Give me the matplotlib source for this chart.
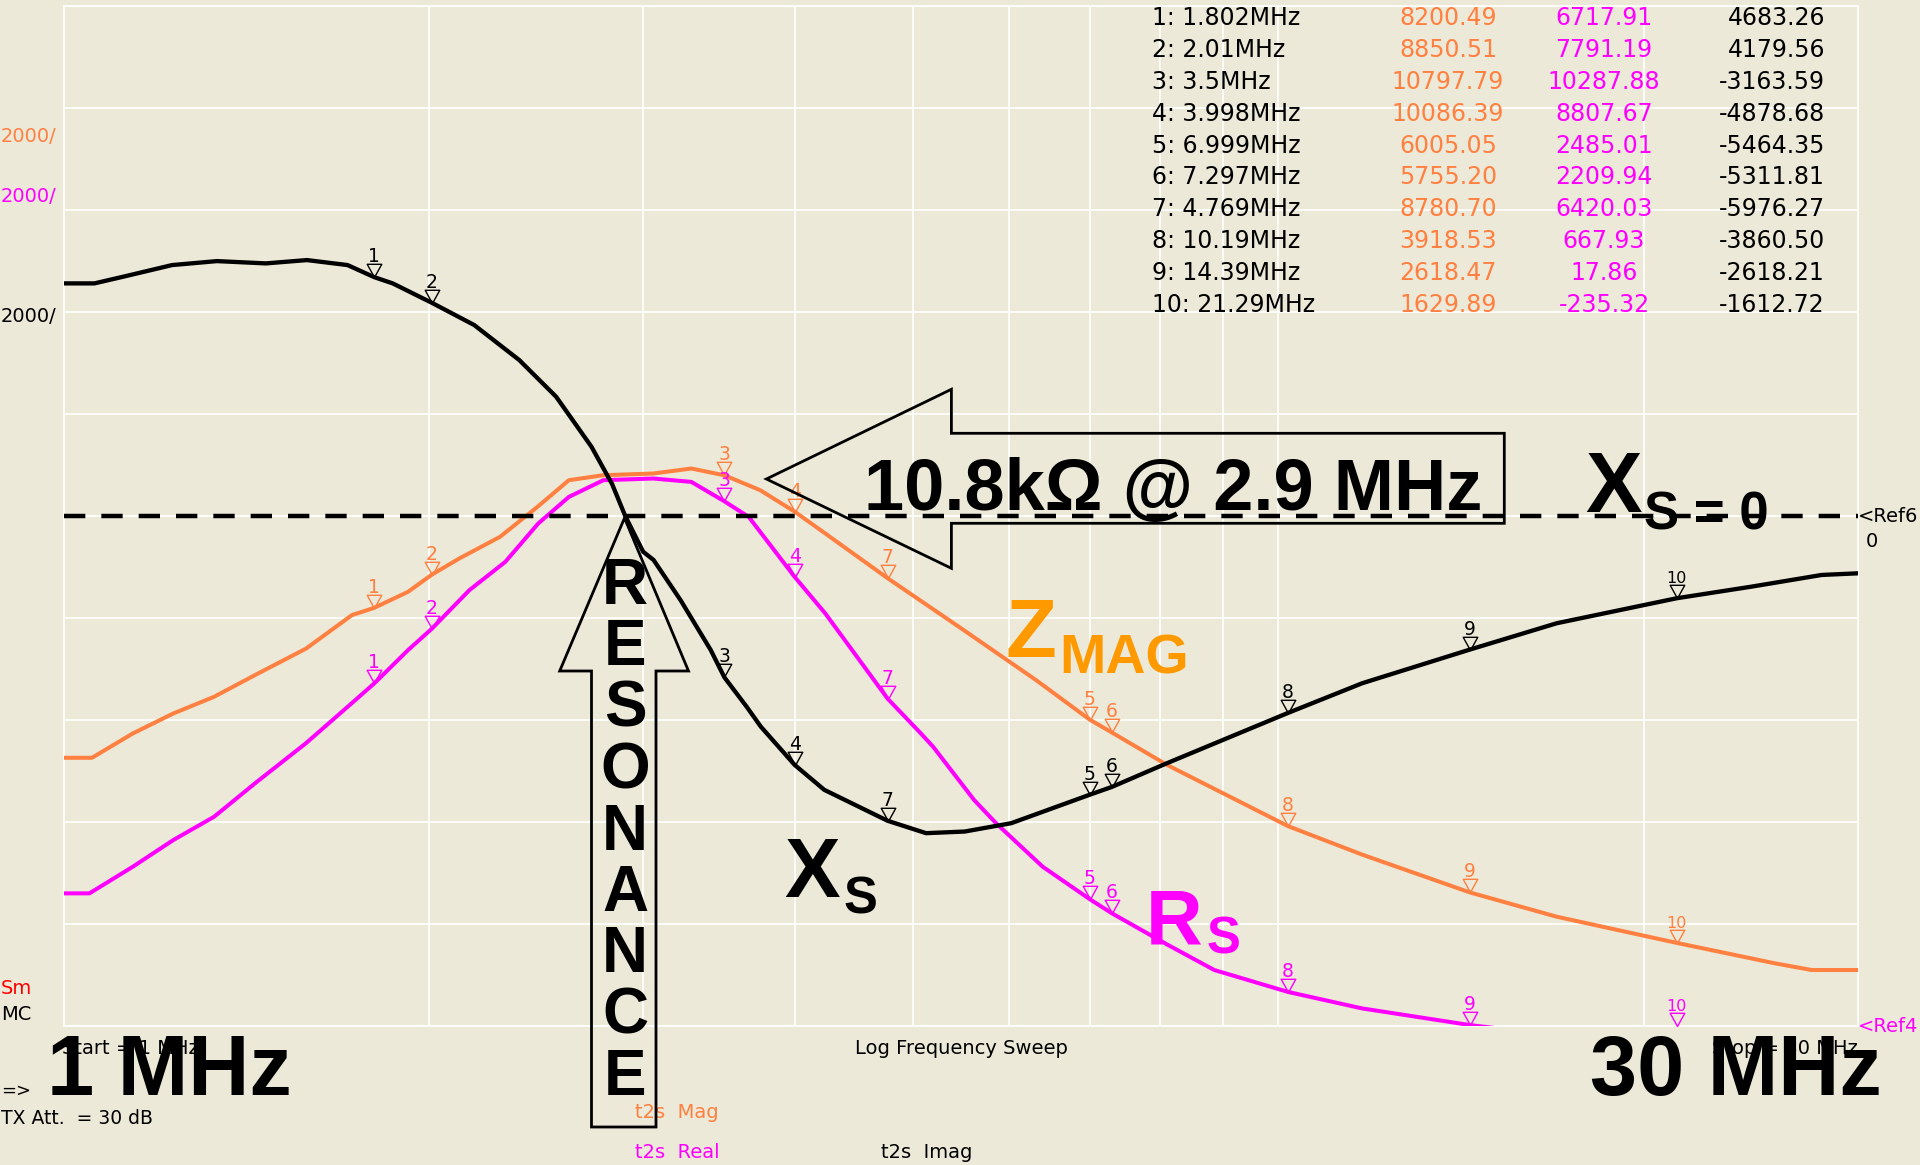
import numpy as np
import matplotlib
matplotlib.use("Agg")
import matplotlib.pyplot as plt
from matplotlib.path import Path
from matplotlib.patches import Polygon
from matplotlib.ticker import NullLocator, NullFormatter

# ---------------- data (MHz / ohms) ----------------
mag_freq = [1.0, 1.055, 1.14, 1.231, 1.33, 1.437, 1.584, 1.727, 1.802, 1.921, 2.01, 2.117,
            2.287, 2.459, 2.606, 2.782, 3.058, 3.287, 3.5, 3.746, 3.998, 4.238, 4.769, 5.46,
            6.32, 6.999, 7.297, 8.1, 10.19, 11.73, 14.39, 16.96, 21.29, 25.65, 27.5, 30.0]
mag_ohm = [5259, 5259, 5736, 6128, 6455, 6880, 7403, 8056, 8200, 8513, 8851, 9167,
           9591, 10192, 10702, 10800, 10833, 10931, 10798, 10506, 10086, 9657, 8781, 7827,
           6782, 6005, 5755, 5120, 3919, 3360, 2618, 2143, 1630, 1229, 1098, 1098]

real_freq = [1.0, 1.05, 1.14, 1.231, 1.33, 1.437, 1.584, 1.744, 1.802, 1.921, 2.01, 2.158,
             2.31, 2.459, 2.606, 2.782, 3.058, 3.287, 3.5, 3.665, 3.998, 4.238, 4.769, 5.08,
             5.2, 5.62, 5.86, 6.4, 6.999, 7.297, 8.1, 8.86, 10.19, 11.72, 14.39, 16.5, 21.29, 30.0]
real_ohm = [2601, 2601, 3123, 3646, 4103, 4757, 5550, 6420, 6718, 7370, 7791, 8546,
            9100, 9853, 10374, 10702, 10735, 10669, 10288, 9983, 8808, 8089, 6420, 5736,
            5474, 4430, 3973, 3123, 2485, 2210, 1600, 1098, 668, 346, 18, -150, -235, -200]

imag_freq = [1.0, 1.06, 1.119, 1.228, 1.337, 1.467, 1.586, 1.713, 1.802, 1.866, 2.01, 2.178,
             2.372, 2.544, 2.72, 2.829, 2.9, 3.0, 3.06, 3.22, 3.41, 3.5, 3.65, 3.75, 3.998, 4.23,
             4.769, 5.13, 5.52, 6.03, 6.999, 7.297, 8.1, 10.19, 11.73, 14.39, 16.96, 21.29, 24.54,
             28.03, 30.0]
imag_ohm = [4561, 4561, 4691, 4920, 4998, 4953, 5018, 4920, 4683, 4561, 4180, 3744,
            3058, 2338, 1359, 624, 0, -700, -862, -1646, -2626, -3164, -3737, -4130, -4879,
            -5370, -5976, -6219, -6187, -6023, -5464, -5312, -4847, -3861, -3279, -2618,
            -2103, -1613, -1385, -1156, -1124]

marker_freq = [1.802, 2.01, 3.5, 3.998, 6.999, 7.297, 4.769, 10.19, 14.39, 21.29]
marker_mag = [8200.49, 8850.51, 10797.79, 10086.39, 6005.05, 5755.20, 8780.70, 3918.53, 2618.47, 1629.89]
marker_real = [6717.91, 7791.19, 10287.88, 8807.67, 2485.01, 2209.94, 6420.03, 667.93, 17.86, -235.32]
marker_imag = [4683.26, 4179.56, -3163.59, -4878.68, -5464.35, -5311.81, -5976.27, -3860.50, -2618.21, -1612.72]

grid_freqs = [2, 3, 4, 5, 6, 7, 8, 9, 10, 20]
f_start, f_stop = 1, 30
ohm_per_div = 2000
n_div = 10

# ---------------- style ----------------
BG = "#ECE9D8"
ORANGE = "#FF8040"
MAGENTA = "#FF00FF"
LABEL_ORANGE = "#FF9900"
W, H = 1920, 1165

fig = plt.figure(figsize=(19.2, 11.65), dpi=100, facecolor=BG)
L, R, T, B = 63.7, 1857.5, 6.0, 1026.0
ax = fig.add_axes([L / W, 1 - B / H, (R - L) / W, (B - T) / H])
ax.set_facecolor(BG)
ax.set_xscale("log")
ax.set_xlim(f_start, f_stop)
ax.set_ylim(0, ohm_per_div * n_div)
ax.set_xticks(grid_freqs)
ax.xaxis.set_minor_locator(NullLocator())
ax.xaxis.set_major_formatter(NullFormatter())
ax.xaxis.set_minor_formatter(NullFormatter())
ax.set_yticks(np.arange(0, ohm_per_div * n_div + 1, ohm_per_div))
ax.yaxis.set_major_formatter(NullFormatter())
ax.tick_params(length=0)
ax.grid(True, color="white", lw=1.2, zorder=0)
ax.set_axisbelow(True)
for sp in ax.spines.values():
    sp.set_color("white")
    sp.set_linewidth(1.2)

ax2 = ax.twinx()
ax2.set_ylim(-ohm_per_div * n_div / 2, ohm_per_div * n_div / 2)
ax2.axis("off")

ax.plot(mag_freq, mag_ohm, color=ORANGE, lw=2.9, solid_joinstyle="round", zorder=3)
ax.plot(real_freq, real_ohm, color=MAGENTA, lw=2.9, solid_joinstyle="round", zorder=4)
ax2.axhline(0, color="black", lw=3.2, linestyle=(0, (4.8, 3.6)), dash_capstyle="butt", zorder=2)
ax2.plot(imag_freq, imag_ohm, color="black", lw=3.1, solid_joinstyle="round", zorder=3)

# marker triangles with tip on the trace
tri = Path([(-1.1, 2.0), (1.1, 2.0), (0.0, 0.0), (-1.1, 2.0)], closed=True)
floor = ax.get_ylim()[0]
for axis, vals, color in [(ax, np.maximum(marker_mag, floor), ORANGE),
                          (ax, np.maximum(marker_real, floor), MAGENTA),
                          (ax2, np.array(marker_imag), "black")]:
    axis.plot(marker_freq, vals, linestyle="none", marker=tri, ms=19, mfc="none",
              mec=color, mew=1.0, zorder=6)
    for i, (f, v) in enumerate(zip(marker_freq, vals)):
        label = str(i + 1)
        axis.annotate(label, (f, v), xytext=(0, 10.8), textcoords="offset points",
                      ha="center", va="baseline", fontsize=13.5 if len(label) == 1 else 11.5,
                      color=color, family="DejaVu Sans", zorder=7)


def P(x, y):
    return (x / W, 1 - y / H)


def ftext(x, y, s, **kw):
    fig.text(x / W, 1 - y / H, s, **kw)


small = dict(family="DejaVu Sans", fontsize=14, va="center")
bold = dict(family="Liberation Sans", weight="bold", va="baseline")

# marker table
row_y0, row_dy = 18.4, 31.8
for i, f in enumerate(marker_freq):
    y = row_y0 + row_dy * i
    ftext(1152, y, f"{i + 1}: {f:g}MHz", family="DejaVu Sans", fontsize=17, va="center", color="black")
    ftext(1448, y, f"{marker_mag[i]:.2f}", family="DejaVu Sans", fontsize=17, va="center", ha="center", color=ORANGE)
    ftext(1604, y, f"{marker_real[i]:.2f}", family="DejaVu Sans", fontsize=17, va="center", ha="center", color=MAGENTA)
    ftext(1825, y, f"{marker_imag[i]:.2f}", family="DejaVu Sans", fontsize=17, va="center", ha="right", color="black")

# scale labels and instrument annotations
ftext(1, 137, f"{ohm_per_div}/", color=ORANGE, **small)
ftext(1, 197, f"{ohm_per_div}/", color=MAGENTA, **small)
ftext(1, 317, f"{ohm_per_div}/", color="black", **small)
ftext(1, 989, "Sm", color="red", **small)
ftext(1, 1014, "MC", color="black", **small)
ftext(1, 1091, "=>", color="black", family="DejaVu Sans", fontsize=13, va="center")
ftext(1, 1119, "TX Att.  = 30 dB", color="black", family="DejaVu Sans", fontsize=13.5, va="center")
ftext(62, 1048, f"Start = {f_start} MHz", color="black", **small)
ftext(961, 1048, "Log Frequency Sweep", color="black", ha="center", **small)
ftext(1858, 1048, f"Stop = {f_stop} MHz", color="black", ha="right", **small)
ftext(635, 1113, "t2s  Mag", color=ORANGE, **small)
ftext(635, 1153, "t2s  Real", color=MAGENTA, **small)
ftext(881, 1153, "t2s  Imag", color="black", **small)
ftext(1858, 517, "<Ref6", color="black", **small)
ftext(1866, 542, "0", color="black", **small)
ftext(1858, 1027, "<Ref4", color=MAGENTA, **small)

# big annotation labels
ftext(47, 1095, f"{f_start} MHz", fontsize=61, color="black", **bold)
ftext(1590, 1095, f"{f_stop} MHz", fontsize=61, color="black", **bold)
ftext(1173, 510, "10.8k\u03a9 @ 2.9 MHz", fontsize=52, color="black", ha="center", **bold)
ftext(1585, 512, "X", fontsize=61, color="black", **bold)
ftext(1644, 530, "S = 0", fontsize=38, color="black", **bold)
ftext(784, 897, "X", fontsize=60, color="black", **bold)
ftext(844, 913, "S", fontsize=36.5, color="black", **bold)
ftext(1006, 657, "Z", fontsize=60, color=LABEL_ORANGE, **bold)
ftext(1059, 674, "MAG", fontsize=40, color=LABEL_ORANGE, **bold)
ftext(1146, 943, "R", fontsize=56.5, color=MAGENTA, **bold)
ftext(1207, 953, "S", fontsize=36.5, color=MAGENTA, **bold)

for i, ch in enumerate("RESONANCE"):
    ftext(625, 604 + 61.4 * i, ch, fontsize=46, color="black", ha="center", **bold)

# arrows (outlined)
up_arrow = [P(624.5, 518), P(688.5, 671), P(656, 671), P(656, 1127), P(591.5, 1127),
            P(591.5, 671), P(559.7, 671)]
left_arrow = [P(766.4, 479), P(951.4, 389.3), P(951.4, 433.3), P(1504.3, 433.3),
              P(1504.3, 523.3), P(951.4, 523.3), P(951.4, 568.3)]
for verts in (up_arrow, left_arrow):
    fig.add_artist(Polygon(verts, closed=True, fill=False, ec="black", lw=2.0,
                           joinstyle="miter", transform=fig.transFigure, zorder=5))

fig.savefig("out.png", dpi=100, facecolor=BG)
